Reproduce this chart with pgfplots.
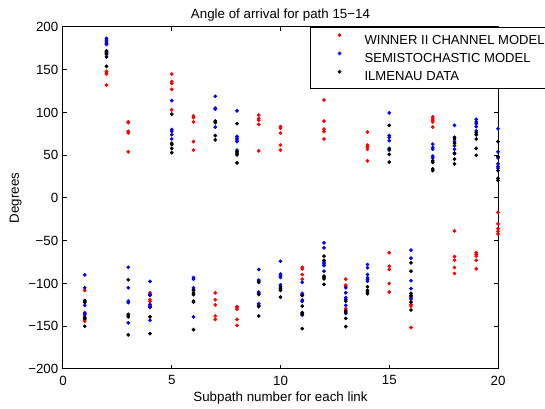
\documentclass[10pt,border=0pt]{standalone}
\usepackage{fontspec}
\setmainfont{Liberation Sans}
\usepackage{pgfplots}
\pgfplotsset{compat=1.18}

\definecolor{wred}{RGB}{255,0,0}
\definecolor{sblue}{RGB}{0,0,255}

\begin{document}
\begin{tikzpicture}
\begin{axis}[
  at={(47.25pt,30pt)}, anchor=south west,
  scale only axis, width=326.25pt, height=256.5pt,
  xmin=0, xmax=20, ymin=-200, ymax=200,
  xtick={0,5,10,15,20},
  ytick={-200,-150,-100,-50,0,50,100,150,200},
  yticklabels={−200,−150,−100,−50,0,50,100,150,200},
  xtick pos=both, ytick pos=both,
  xticklabel pos=bottom, yticklabel pos=left,
  tick align=inside, major tick length=3pt,
  axis line style={line width=0.75pt},
  every tick/.style={black, line width=0.75pt},
  /pgf/number format/assume math mode=true,
  tick label style={font=\fontsize{10}{12}\selectfont},
  xticklabel style={yshift=-1.5pt},
  every axis title shift=0pt,
  title={Angle of arrival for path 15\textminus14},
  title style={at={(axis description cs:0.5,1.0249)}, anchor=base, font=\fontsize{10}{12}\selectfont},
  xlabel={Subpath number for each link},
  xlabel style={at={(axis description cs:0.5,-0.0965)}, anchor=base, font=\fontsize{10}{12}\selectfont},
  ylabel={Degrees},
  every axis y label/.style={at={(axis description cs:-0.109,0.5)}, rotate=90, anchor=center, font=\fontsize{10}{12}\selectfont},
  clip=false,
  legend style={at={(axis description cs:0.568,1)}, anchor=north west,
    draw=black, line width=0.75pt, fill=white,
    inner xsep=3pt, inner ysep=2.5pt, row sep=0pt,
    nodes={inner sep=0pt, text height=9.9pt, text depth=3.8pt},
    font=\fontsize{9.8}{12}\selectfont},
  legend cell align=left,
  legend image code/.code={%
    \path[draw=none, fill=none] (-18.75pt,0pt) (18.75pt,0pt);
    \path[#1, line width=0.4pt, draw=none] plot coordinates {(0pt,3.6pt)};},
  every axis plot/.append style={only marks, mark=*, mark size=1.2pt},
]
% WINNER II channel model
\addplot[color=wred, mark options={fill=wred, draw=wred}] coordinates {
 (1,-108) (1,-134) (1,-138) (1,-142) (1,-144)
 (2,148) (2,146) (2,145) (2,132)
 (3,89) (3,88) (3,78) (3,76) (3,54)
 (4,-111) (4,-119) (4,-121) (4,-126)
 (5,145) (5,136) (5,134) (5,127) (5,103)
 (6,96) (6,94) (6,89) (6,66) (6,56)
 (7,-111) (7,-119) (7,-125) (7,-138) (7,-142)
 (8,-127) (8,-128) (8,-130) (8,-142) (8,-149)
 (9,97) (9,93) (9,91) (9,86) (9,55)
 (10,83.5) (10,81.6) (10,76) (10,62) (10,56)
 (11,-81) (11,-83) (11,-89.5) (11,-95) (11,-112.8) (11,-114)
 (12,114.6) (12,90) (12,80.5) (12,77.7) (12,69)
 (13,-95) (13,-102) (13,-103.8) (13,-110.8) (13,-129.4) (13,-131)
 (14,77) (14,62) (14,60) (14,57) (14,43.5)
 (15,-64) (15,-79.8) (15,-83.6) (15,-100) (15,-110)
 (16,-118.6) (16,-124.4) (16,-126.4) (16,-151.6)
 (17,95) (17,93) (17,91) (17,89) (17,83)
 (18,-38.5) (18,-68.5) (18,-72.8) (18,-81.3) (18,-88.3)
 (19,-64) (19,-66) (19,-68) (19,-72.8) (19,-82.8)
 (20,-16.8) (20,-30.3) (20,-36) (20,-39) (20,-42)
};
\addlegendentry{WINNER II CHANNEL MODEL}
% semistochastic model
\addplot[color=sblue, mark options={fill=sblue, draw=sblue}] coordinates {
 (1,-90) (1,-105) (1,-120.6) (1,-121.7) (1,-125.6) (1,-135) (1,-136)
 (2,186.6) (2,184.6) (2,182.7) (2,180.8) (2,179.6) (2,170) (2,168)
 (3,-81) (3,-105) (3,-120.6) (3,-122.4) (3,-146)
 (4,-97.6) (4,-112.8) (4,-114) (4,-124.4) (4,-127) (4,-128) (4,-143)
 (5,114) (5,80) (5,78) (5,74) (5,69)
 (6,-93) (6,-95) (6,-105) (6,-107) (6,-139)
 (7,119) (7,105) (7,104) (7,89) (7,83)
 (8,102) (8,72) (8,70) (8,68) (8,66) (8,56)
 (9,-83.6) (9,-96) (9,-97) (9,-110) (9,-111.6) (9,-123.6) (9,-125.6)
 (10,-74) (10,-89) (10,-91) (10,-93) (10,-101.5)
 (11,-98.6) (11,-111.6) (11,-119.4) (11,-121) (11,-135) (11,-137)
 (12,-52.5) (12,-58.3) (12,-75) (12,-77) (12,-79) (12,-85.6)
 (13,-105) (13,-110.8) (13,-116.6) (13,-118.6) (13,-125.6) (13,-135)
 (14,-77.8) (14,-81.6) (14,-89.5) (14,-93.3) (14,-95.3) (14,-97.3)
 (15,99.5) (15,73) (15,71) (15,67) (15,58) (15,56)
 (16,-61) (16,-70.4) (16,-96.8) (16,-106) (16,-115.5) (16,-117)
 (17,63) (17,59) (17,57) (17,49) (17,47)
 (18,85) (18,66) (18,61) (18,57) (18,52.5)
 (19,92) (19,89) (19,87) (19,83.5) (19,78.5) (19,74)
 (20,81) (20,54) (20,47) (20,40) (20,37) (20,35)
};
\addlegendentry{SEMISTOCHASTIC MODEL}
% Ilmenau measurement data
\addplot[color=black, mark options={fill=black, draw=black}] coordinates {
 (1,-120) (1,-122) (1,-140) (1,-141) (1,-150)
 (2,172) (2,171) (2,169) (2,165) (2,154)
 (3,-95.6) (3,-136) (3,-137) (3,-139) (3,-160)
 (4,-139) (4,-158.6)
 (5,98) (5,64) (5,62.5) (5,58) (5,53)
 (6,-108) (6,-111) (6,-113) (6,-120.6) (6,-121.7) (6,-154)
 (7,90) (7,88) (7,73) (7,68)
 (8,87) (8,54) (8,52.5) (8,50.5) (8,41)
 (9,-98.6) (9,-112.8) (9,-127) (9,-138)
 (10,-104) (10,-106) (10,-108) (10,-116)
 (11,-114) (11,-126.4) (11,-134) (11,-136) (11,-152.8)
 (12,-68) (12,-73) (12,-91.4) (12,-92.6) (12,-94.5) (12,-101)
 (13,-120.6) (13,-132) (13,-133.4) (13,-140.8) (13,-150.4)
 (14,-103.8) (14,-108) (14,-110) (14,-112)
 (15,85) (15,57) (15,51) (15,42)
 (16,-75.8) (16,-85.6) (16,-111.6) (16,-114) (16,-121.7) (16,-131)
 (17,43.5) (17,41.5) (17,34) (17,32)
 (18,71) (18,69) (18,64) (18,52) (18,45.5) (18,40)
 (19,76.5) (19,74) (19,69) (19,58) (19,50)
 (20,66) (20,48.5) (20,32) (20,23) (20,20.5)
};
\addlegendentry{ILMENAU DATA}
\end{axis}
\pgfresetboundingbox
\useasboundingbox (0,0) rectangle (408.75pt,306.75pt);
\end{tikzpicture}
\end{document}
